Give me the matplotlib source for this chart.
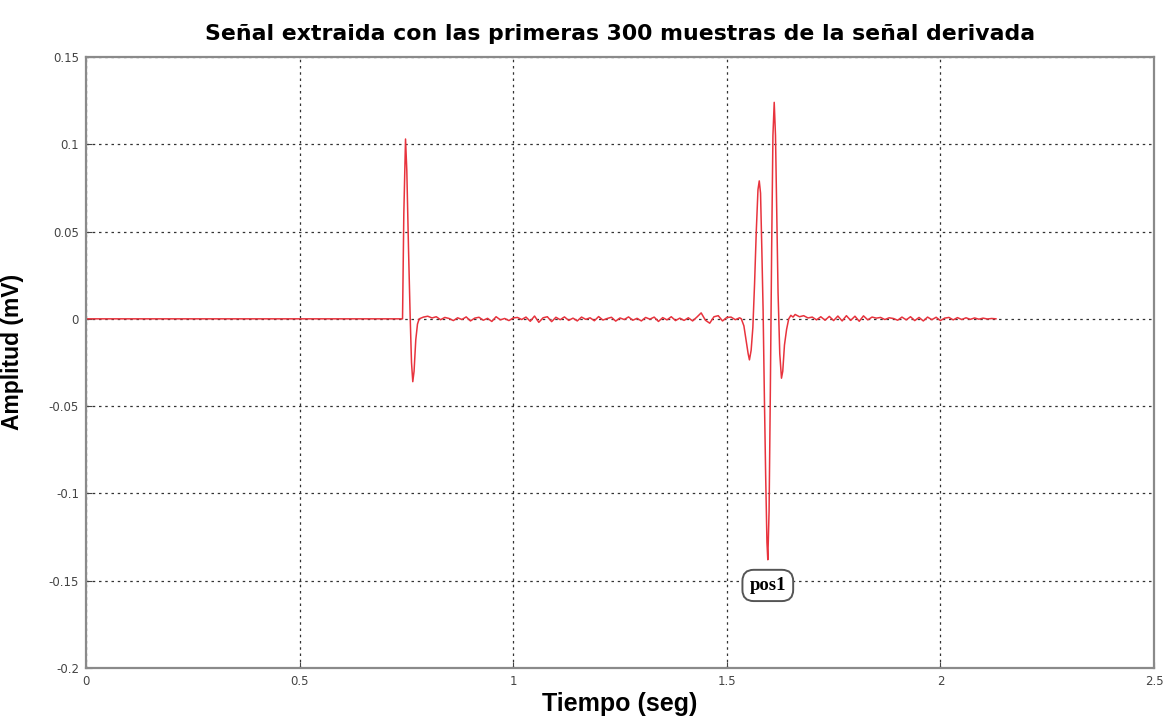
import numpy as np
import matplotlib
matplotlib.use("Agg")
import matplotlib.pyplot as plt

# --- data (tiempo en s, amplitud en mV) ---
# tramo inicial en cero
inicio_t = [0.0, 0.741]
inicio_v = [0.0, 0.0]

# primer complejo
onda1_t = [0.741, 0.744, 0.748, 0.751, 0.755, 0.759, 0.762, 0.765, 0.768,
           0.772, 0.776, 0.780]
onda1_v = [0.0, 0.060, 0.103, 0.085, 0.040, 0.000, -0.025, -0.036, -0.030,
           -0.012, -0.003, 0.000]

# ruido entre complejos, muestreado cada 0.01 s desde 0.79 s
ruido1_v = [0.0010, 0.0015, 0.0005, 0.0012, -0.0005, 0.0008, 0.0002, -0.0010, 0.0006, -0.0004,
            0.0011, -0.0012, 0.0004, 0.0009, -0.0008, 0.0003, -0.0015, 0.0012, -0.0006, 0.0002,
            -0.0010, 0.0005, 0.0008, -0.0004, 0.0010, -0.0014, 0.0016, -0.0020, 0.0006, 0.0012,
            -0.0016, 0.0009, -0.0005, 0.0011, -0.0009, 0.0004, -0.0012, 0.0010, -0.0003, 0.0006,
            -0.0011, 0.0013, -0.0007, 0.0002, 0.0009, -0.0013, 0.0005, -0.0004, 0.0011, -0.0008,
            0.0003, -0.0012, 0.0008, -0.0002, 0.0010, -0.0015, 0.0007, -0.0006, 0.0012, -0.0010,
            0.0004, -0.0009, 0.0006, -0.0012, 0.0010, 0.0034, -0.0008, -0.0025, 0.0012, 0.0018,
            -0.0012, 0.0008, 0.0010, -0.0005, 0.0006]

# segundo complejo
onda2_t = [1.534, 1.540, 1.545, 1.550, 1.553, 1.557, 1.561, 1.565, 1.569, 1.573,
           1.576, 1.579, 1.582, 1.585, 1.588, 1.591, 1.594, 1.596, 1.599, 1.602,
           1.605, 1.608, 1.611, 1.614, 1.617, 1.620, 1.624, 1.628, 1.631, 1.635,
           1.640, 1.645, 1.650, 1.655]
onda2_v = [0.000, -0.004, -0.012, -0.020, -0.0235, -0.018, -0.005, 0.020, 0.050, 0.074,
           0.079, 0.072, 0.040, 0.005, -0.045, -0.090, -0.128, -0.138, -0.110, -0.040,
           0.040, 0.105, 0.124, 0.105, 0.060, 0.015, -0.020, -0.034, -0.030, -0.015,
           -0.006, 0.000, 0.002, 0.001]

# ruido final, muestreado cada 0.01 s desde 1.66 s
ruido2_v = [0.0025, 0.0012, 0.0018, 0.0005, 0.0010, -0.0006, 0.0012, -0.0008, 0.0014, -0.0010,
            0.0016, -0.0012, 0.0018, -0.0009, 0.0015, -0.0014, 0.0017, -0.0006, 0.0010, 0.0004,
            0.0008, -0.0004, 0.0006, 0.0002, -0.0008, 0.0010, -0.0006, 0.0012, -0.0010, 0.0008,
            -0.0012, 0.0010, -0.0005, 0.0009, -0.0010, 0.0004, 0.0008, -0.0006, 0.0007, -0.0004,
            0.0006, -0.0003, 0.0005, -0.0002, 0.0004, -0.0001, 0.0002, 0.0]

x_ticks = [0, 0.5, 1, 1.5, 2, 2.5]
x_labels = ["0", "0.5", "1", "1.5", "2", "2.5"]
y_ticks = [-0.2, -0.15, -0.1, -0.05, 0, 0.05, 0.1, 0.15]
y_labels = ["-0.2", "-0.15", "-0.1", "-0.05", "0", "0.05", "0.1", "0.15"]

pos1_t = 1.596
pos1_v = -0.138

# --- assemble signal ---
ruido1_t = 0.79 + 0.01 * np.arange(len(ruido1_v))
ruido2_t = 1.66 + 0.01 * np.arange(len(ruido2_v))
t = np.concatenate([inicio_t, onda1_t, ruido1_t, onda2_t, ruido2_t])
v = np.concatenate([inicio_v, onda1_v, ruido1_v, onda2_v, ruido2_v])

fig = plt.figure(figsize=(11.76, 7.22), dpi=100)
ax = fig.add_axes([0.0731, 0.0748, 0.9082, 0.8463])

ax.plot(t, v, color="#e8333d", lw=1.1)

ax.set_xlim(0, 2.5)
ax.set_ylim(-0.2, 0.15)
ax.set_xticks(x_ticks)
ax.set_xticklabels(x_labels)
ax.set_yticks(y_ticks)
ax.set_yticklabels(y_labels)
ax.tick_params(direction="in", length=4, labelsize=8.5, colors="#444444")
ax.tick_params(axis="y", pad=5)
ax.tick_params(axis="x", pad=5)
ax.grid(True, linestyle=(0, (2, 3)), color="#333333", lw=0.9)
for s in ax.spines.values():
    s.set_color("#8a8a8a")
    s.set_linewidth(1.6)

ax.set_title("Señal extraida con las primeras 300 muestras de la señal derivada",
             fontsize=15.8, fontweight="bold", family="DejaVu Sans", pad=12)
ax.set_xlabel("Tiempo (seg)", fontsize=18, fontweight="bold", family="Liberation Sans",
              labelpad=3)
ax.set_ylabel("Amplitud (mV)", fontsize=16.5, fontweight="bold", family="Liberation Sans")
ax.yaxis.set_label_coords(-0.058, 0.518)

ax.annotate("pos1", xy=(pos1_t, pos1_v), xytext=(0, -18.5), textcoords="offset points",
            ha="center", va="center", fontsize=13.5, fontweight="bold",
            family="Liberation Serif",
            bbox=dict(boxstyle="round,pad=0.38,rounding_size=0.6", fc="white",
                      ec="#555555", lw=1.4))

fig.savefig("out.png", dpi=100)
